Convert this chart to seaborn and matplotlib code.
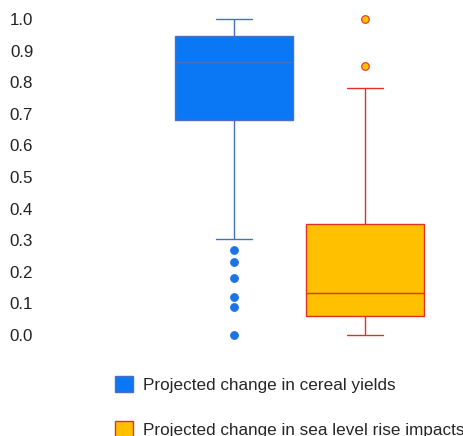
import pandas as pd
import matplotlib.pyplot as plt
import seaborn as sns
from matplotlib.patches import Patch

# Values (whisker ends, quartiles, median and outliers)
groups = ['Projected change in cereal yields', 'Projected change in sea level rise impacts']
cereal_yields = [0.0, 0.09, 0.12, 0.18, 0.23, 0.27, 0.305,
                 0.68, 0.72, 0.76, 0.80, 0.83, 0.85, 0.86, 0.865,
                 0.88, 0.90, 0.91, 0.92, 0.93, 0.94, 0.945,
                 0.96, 0.97, 0.98, 0.99, 0.99, 1.0, 1.0]
sea_level = [0.0, 0.01, 0.02, 0.03, 0.05, 0.06, 0.08, 0.10, 0.11, 0.12, 0.133,
             0.17, 0.20, 0.25, 0.30, 0.35, 0.45, 0.60, 0.783, 0.85, 1.0]
y_ticks = [0.0, 0.1, 0.2, 0.3, 0.4, 0.5, 0.6, 0.7, 0.8, 0.9, 1.0]

fill_colors = ['#0a78f5', '#ffc000']
line_colors = ['#4a6fc0', '#e0302a']
dot_colors = ['#1a74e6', '#ffc000']

df = pd.DataFrame({
    'group': [groups[0]] * len(cereal_yields) + [groups[1]] * len(sea_level),
    'value': cereal_yields + sea_level,
})

sns.set_style('white')
plt.rcParams['font.family'] = ['Liberation Sans', 'DejaVu Sans']

fig = plt.figure(figsize=(4.64, 4.36), dpi=100)
ax = fig.add_axes([45 / 464, 1 - 341.3 / 436, 410 / 464, 328.6 / 436])

for i, g in enumerate(groups):
    sns.boxplot(data=df[df['group'] == g], x='group', y='value', order=groups,
                color=fill_colors[i], linecolor=line_colors[i], saturation=1,
                width=0.9, linewidth=1, capwidths=0.27, ax=ax,
                flierprops=dict(marker='o', markersize=5.5,
                                markerfacecolor=dot_colors[i],
                                markeredgecolor=line_colors[i] if i else dot_colors[i],
                                markeredgewidth=0.8))

ax.set_xlim(-1.443, 1.687)
ax.set_ylim(-0.02, 1.02)
ax.set_yticks(y_ticks)
ax.set_yticklabels([f'{t:.1f}' for t in y_ticks], fontsize=12.2, color='#222222')
ax.tick_params(axis='y', length=0, pad=8.5)
ax.set_xticks([])
ax.set_xlabel('')
ax.set_ylabel('')
for s in ax.spines.values():
    s.set_visible(False)

handles = [Patch(facecolor=fill_colors[i], edgecolor=line_colors[i], linewidth=1)
           for i in range(2)]
fig.legend(handles, groups, loc='upper left', bbox_to_anchor=(115 / 464, 0.138),
           frameon=False, fontsize=12.3, borderpad=0, borderaxespad=0,
           handlelength=1.05, handleheight=1.05, handletextpad=0.6,
           labelspacing=1.65)

fig.savefig('out.png', dpi=100)
